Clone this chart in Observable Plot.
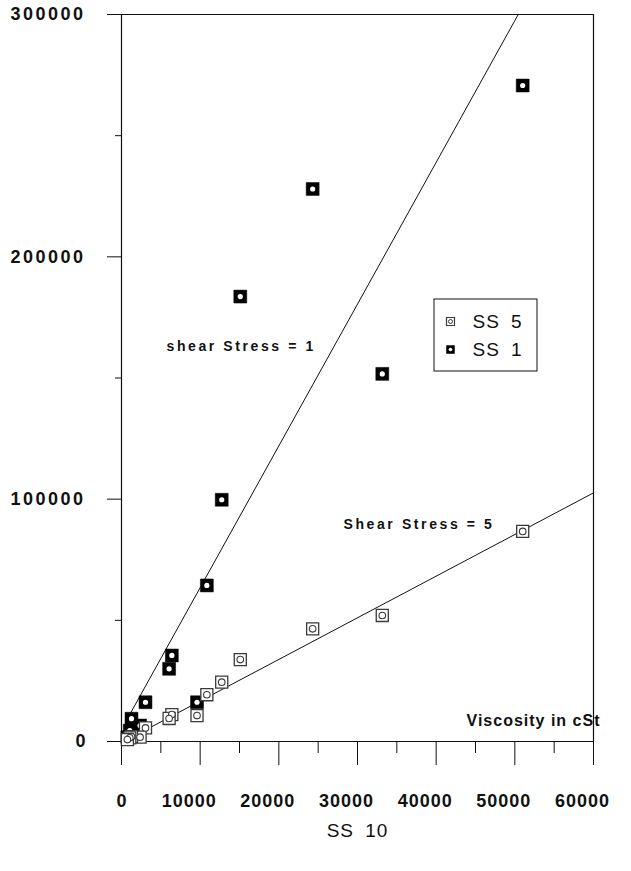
<!DOCTYPE html>
<html><head><meta charset="utf-8">
<script src="https://cdn.jsdelivr.net/npm/d3@7"></script>
<script src="https://cdn.jsdelivr.net/npm/@observablehq/plot@0.6"></script>
<style>
body{margin:0;background:#fff}
svg{display:block}
</style>
</head><body><div id="chart"></div>
<script>
// SS 10 values (x) shared by both series
const ss10 = [51000, 33150, 24300, 15100, 12740, 10850, 9600, 6400, 6050, 3050, 2360, 1270, 1050, 750];
// Shear stress = 1
const ss1 = [270700, 151700, 228000, 183600, 99750, 64400, 16200, 35500, 30000, 16200, 6600, 9400, 4500, 1800];
// Shear stress = 5
const ss5 = [86700, 52000, 46500, 33800, 24500, 19300, 10700, 11100, 9500, 5600, 1800, 2000, 1500, 800];
// fitted lines (endpoints)
const fit1X = [700, 50430];
const fit1Y = [9100, 300000];
const fit5X = [2500, 60000];
const fit5Y = [3800, 102600];
// ticks
const yMajorTicks = [0, 100000, 200000, 300000];
const yMinorTicks = [50000, 150000, 250000];
const xMajorTicks = [0, 10000, 20000, 30000, 40000, 50000, 60000];
const xMinorTicks = [5000, 15000, 25000, 35000, 45000, 55000];
const seriesNames = ["SS 5", "SS 1"];
const annotations = ["shear Stress = 1", "Shear Stress = 5"];
const yTitle = "Viscosity in cSt";
const xTitle = "SS 10";

const rows = ss10.map((x, i) => ({x, ss1: ss1[i], ss5: ss5[i]}));
const fit1 = fit1X.map((x, i) => ({x, y: fit1Y[i]}));
const fit5 = fit5X.map((x, i) => ({x, y: fit5Y[i]}));

const ML = 121, MT = 14;
const ink = "#111", grey = "#3a3a3a";

function legendBox() {
  const g = d3.create("svg:g");
  g.append("rect").attr("x", 434).attr("y", 299).attr("width", 103).attr("height", 72)
    .attr("fill", "white").attr("stroke", ink).attr("stroke-width", 1);
  return g.node();
}

const chart = Plot.plot({
  width: 631, height: 871,
  marginLeft: ML, marginRight: 38, marginTop: MT, marginBottom: 130,
  x: {domain: [0, 60000], label: null},
  y: {domain: [0, 300000], label: null},
  style: {fontFamily: "'Liberation Sans', Arial, sans-serif", background: "white", color: ink},
  marks: [
    // frame lines
    Plot.ruleY([0, 300000], {stroke: ink, strokeWidth: 1.2}),
    Plot.ruleX([0, 60000], {stroke: ink, strokeWidth: 1.2}),
    // y ticks
    Plot.axisY({ticks: yMajorTicks, tickSize: 14, tickPadding: 22, fontSize: 18, fontWeight: "bold", tickFormat: d => String(d), stroke: ink}),
    Plot.axisY({ticks: yMinorTicks, tickSize: 6, tickFormat: () => "", stroke: ink}),
    // x ticks
    Plot.axisX({ticks: xMajorTicks, tickSize: 24, tickFormat: () => "", stroke: ink}),
    Plot.axisX({ticks: xMinorTicks, tickSize: 12, tickFormat: () => "", stroke: ink}),
    Plot.axisX({ticks: xMajorTicks.slice(0, 1), tickSize: 0, tickPadding: 53, fontSize: 18, fontWeight: "bold", tickFormat: d => String(d)}),
    Plot.axisX({ticks: xMajorTicks.slice(1), tickSize: 0, tickPadding: 53, dx: -11, fontSize: 18, fontWeight: "bold", tickFormat: d => String(d)}),
    // fitted lines
    Plot.line(fit1, {x: "x", y: "y", stroke: ink, strokeWidth: 1}),
    Plot.line(fit5, {x: "x", y: "y", stroke: ink, strokeWidth: 1}),
    // SS 1 points
    Plot.dot(rows, {x: "x", y: "ss1", symbol: "square", r: 7.3, fill: "black", stroke: "black", strokeWidth: 0.5}),
    Plot.dot(rows, {x: "x", y: "ss1", r: 2.6, fill: "white"}),
    // SS 5 points
    Plot.dot(rows, {x: "x", y: "ss5", symbol: "square", r: 6.8, fill: "white", stroke: grey, strokeWidth: 1.3}),
    Plot.dot(rows, {x: "x", y: "ss5", r: 3.3, fill: "white", stroke: grey, strokeWidth: 1.1}),
    // annotations
    Plot.text(annotations.slice(0, 1), {frameAnchor: "top-left", dx: 166 - ML, dy: 346 - MT, textAnchor: "start", lineAnchor: "middle", fontSize: 14, fontWeight: "bold", fill: ink}),
    Plot.text(annotations.slice(1, 2), {frameAnchor: "top-left", dx: 343 - ML, dy: 524 - MT, textAnchor: "start", lineAnchor: "middle", fontSize: 14, fontWeight: "bold", fill: ink}),
    Plot.text([yTitle], {frameAnchor: "top-left", dx: 466 - ML, dy: 720 - MT, textAnchor: "start", lineAnchor: "middle", fontSize: 16, fontWeight: "bold", fill: ink}),
    Plot.text([xTitle], {frameAnchor: "top-left", dx: 357 - ML, dy: 830 - MT, textAnchor: "middle", lineAnchor: "middle", fontSize: 19, fill: ink}),
    // legend
    legendBox,
    Plot.dot(seriesNames.slice(0, 1), {frameAnchor: "top-left", dx: 450 - ML, dy: 321 - MT, symbol: "square", r: 4.5, fill: "white", stroke: grey, strokeWidth: 1.2}),
    Plot.dot(seriesNames.slice(0, 1), {frameAnchor: "top-left", dx: 450 - ML, dy: 321 - MT, r: 2, fill: "white", stroke: grey, strokeWidth: 1}),
    Plot.dot(seriesNames.slice(1, 2), {frameAnchor: "top-left", dx: 450 - ML, dy: 349 - MT, symbol: "square", r: 4.8, fill: "black"}),
    Plot.dot(seriesNames.slice(1, 2), {frameAnchor: "top-left", dx: 450 - ML, dy: 349 - MT, r: 1.8, fill: "white"}),
    Plot.text(seriesNames.slice(0, 1), {frameAnchor: "top-left", dx: 472 - ML, dy: 321 - MT, textAnchor: "start", lineAnchor: "middle", fontSize: 19, fill: ink}),
    Plot.text(seriesNames.slice(1, 2), {frameAnchor: "top-left", dx: 472 - ML, dy: 349 - MT, textAnchor: "start", lineAnchor: "middle", fontSize: 19, fill: ink}),
  ]
});
document.getElementById("chart").appendChild(chart);

// typographic letter spacing, as in the scanned original
const spacing = {"shear Stress = 1": "2.6px", "Shear Stress = 5": "2.6px", "Viscosity in cSt": "1px"};
d3.select(chart).selectAll("text").each(function() {
  const t = this.textContent;
  if (spacing[t]) this.style.letterSpacing = spacing[t];
  else if (/^SS /.test(t)) { this.style.letterSpacing = "1px"; this.style.wordSpacing = "5px"; }
  else if (/^\d+$/.test(t) && t.length === 6) this.style.letterSpacing = "2.5px";
  else if (/^\d+$/.test(t) && t.length === 5) this.style.letterSpacing = "1px";
});
</script>
</body></html>
